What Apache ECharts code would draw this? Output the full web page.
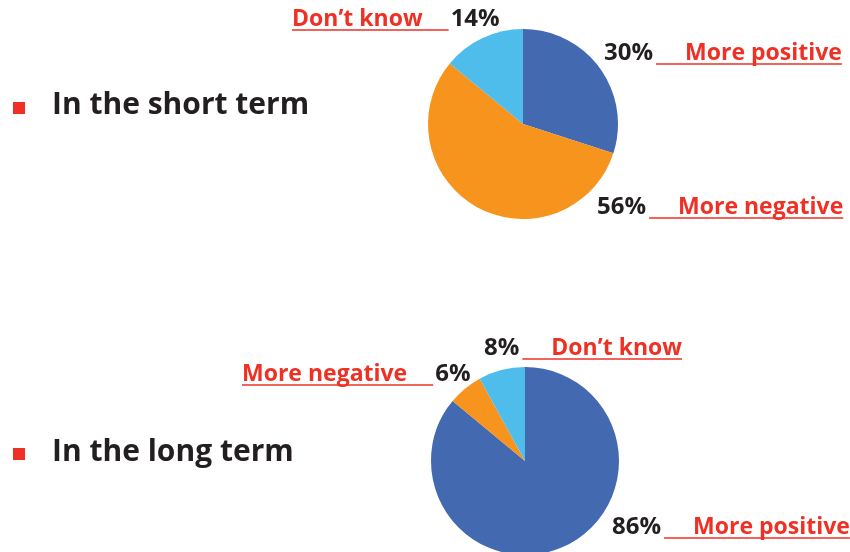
<!DOCTYPE html>
<html>
<head>
<meta charset="utf-8">
<script src="https://cdn.jsdelivr.net/npm/echarts@6/dist/echarts.min.js"></script>
<style>
  html, body { margin: 0; padding: 0; background: #fff; }
  #main { width: 850px; height: 552px; }
</style>
</head>
<body>
<div id="main"></div>
<script type="text/javascript">
// data
var names = ['More positive', 'More negative', 'Don\u2019t know'];
var shortTerm = [30, 56, 14];
var longTerm = [86, 6, 8];
var colors = ['#4369b0', '#f7941d', '#4ebdec'];

// label placement (pixels): left edge, middle y, which side the name sits on
var shortLabels = [
  { x: 604, y: 53, side: 'right' },
  { x: 597, y: 207, side: 'right' },
  { x: 292, y: 19, side: 'left' }
];
var longLabels = [
  { x: 612, y: 527, side: 'right' },
  { x: 242, y: 374, side: 'left' },
  { x: 484, y: 348, side: 'right' }
];

var RED = '#ee3124';
var INK = '#231f20';
var pctFont = 'bold 24px "Open Sans"';

var ctx = document.createElement('canvas').getContext('2d');
function textWidth(s) {
  ctx.font = pctFont;
  return ctx.measureText(s).width;
}

function makeSeries(values, labels, center, radius) {
  return {
    type: 'pie',
    center: center,
    radius: radius,
    startAngle: 90,
    clockwise: true,
    avoidLabelOverlap: false,
    animation: false,
    data: values.map(function (v, i) {
      return { name: names[i], value: v, itemStyle: { color: colors[i] } };
    }),
    label: {
      show: true,
      formatter: function (p) {
        var pct = p.value + '%';
        if (labels[p.dataIndex].side === 'right') {
          return '{p|' + pct + '}{g|}{n|' + p.name + '}';
        }
        return '{n|' + p.name + '}{g2|}{p|' + pct + '}';
      },
      rich: {
        p: { fontFamily: 'Open Sans', fontWeight: 'bold', fontSize: 24, color: INK },
        n: { fontFamily: 'Open Sans', fontWeight: 'bold', fontSize: 23, color: RED },
        g: { width: 32 },
        g2: { width: 28 }
      }
    },
    labelLine: {
      show: true,
      smooth: false,
      lineStyle: { color: RED, width: 1.5 }
    },
    labelLayout: function (params) {
      var l = labels[params.dataIndex];
      var w = params.labelRect.width;
      var pw = textWidth(values[params.dataIndex] + '%');
      var ly = l.y + 11;
      var x1, x2;
      if (l.side === 'right') {
        x1 = l.x + pw + 3;
        x2 = l.x + w;
      } else {
        x1 = l.x;
        x2 = l.x + w - pw - 2;
      }
      return {
        x: l.x,
        y: l.y,
        align: 'left',
        verticalAlign: 'middle',
        labelLinePoints: [[x1, ly], [(x1 + x2) / 2, ly], [x2, ly]]
      };
    }
  };
}

var myChart = echarts.init(document.getElementById('main'));
var headStyle = { fontFamily: 'Open Sans', fontWeight: 'bold', fontSize: 30, color: INK };
var sqRich = { sq: { width: 12, height: 12, backgroundColor: RED } };
var option = {
  backgroundColor: '#ffffff',
  animation: false,
  title: [
    { text: 'In the short term', left: 52, top: 90, padding: 0, textStyle: headStyle },
    { text: 'In the long term', left: 52, top: 437, padding: 0, textStyle: headStyle },
    { text: '{sq|}', left: 13, top: 102, padding: 0, textStyle: { rich: sqRich } },
    { text: '{sq|}', left: 13, top: 448, padding: 0, textStyle: { rich: sqRich } }
  ],
  series: [
    makeSeries(shortTerm, shortLabels, [523, 124], 95),
    makeSeries(longTerm, longLabels, [525, 461], 94)
  ]
};
myChart.setOption(option);
</script>
</body>
</html>
